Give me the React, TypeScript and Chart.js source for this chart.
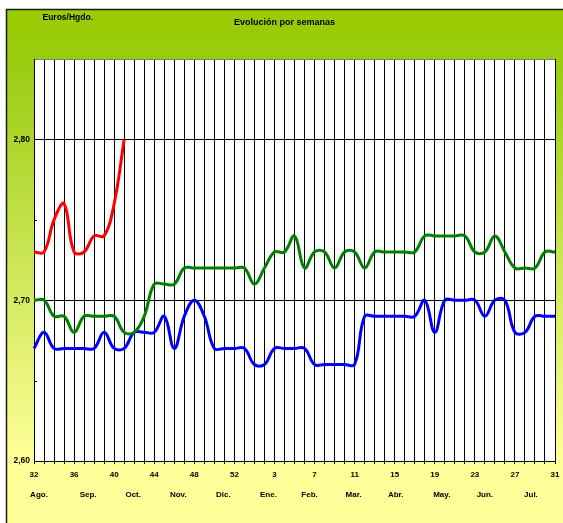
import { useEffect, useRef } from "react";
import { Chart, registerables } from "chart.js";

Chart.register(...registerables);

const weeks: number[] = [
  32, 33, 34, 35, 36, 37, 38, 39, 40, 41, 42, 43, 44, 45, 46, 47, 48, 49, 50, 51, 52, 53,
  1, 2, 3, 4, 5, 6, 7, 8, 9, 10, 11, 12, 13, 14, 15, 16, 17, 18, 19, 20, 21, 22, 23, 24,
  25, 26, 27, 28, 29, 30, 31,
];

const months: string[] = ["Ago.", "Sep.", "Oct.", "Nov.", "Dic.", "Ene.", "Feb.", "Mar.", "Abr.", "May.", "Jun.", "Jul."];
// month label centres, expressed as (fractional) week index on the category axis
const monthCenters: number[] = [0.5, 5.4, 9.9, 14.4, 18.9, 23.4, 27.5, 31.9, 36.1, 40.7, 45.0, 49.6];

const redSeries: (number | null)[] = [2.73, 2.73, 2.75, 2.76, 2.73, 2.73, 2.74, 2.74, 2.76, 2.8];

const greenSeries: number[] = [
  2.7, 2.7, 2.69, 2.69, 2.68, 2.69, 2.69, 2.69, 2.69, 2.68, 2.68, 2.69, 2.71, 2.71, 2.71, 2.72,
  2.72, 2.72, 2.72, 2.72, 2.72, 2.72, 2.71, 2.72, 2.73, 2.73, 2.74, 2.72, 2.73, 2.73, 2.72, 2.73,
  2.73, 2.72, 2.73, 2.73, 2.73, 2.73, 2.73, 2.74, 2.74, 2.74, 2.74, 2.74, 2.73, 2.73, 2.74, 2.73,
  2.72, 2.72, 2.72, 2.73, 2.73,
];

const blueSeries: number[] = [
  2.67, 2.68, 2.67, 2.67, 2.67, 2.67, 2.67, 2.68, 2.67, 2.67, 2.68, 2.68, 2.68, 2.69, 2.67, 2.69,
  2.7, 2.69, 2.67, 2.67, 2.67, 2.67, 2.66, 2.66, 2.67, 2.67, 2.67, 2.67, 2.66, 2.66, 2.66, 2.66,
  2.66, 2.69, 2.69, 2.69, 2.69, 2.69, 2.69, 2.7, 2.68, 2.7, 2.7, 2.7, 2.7, 2.69, 2.7, 2.7,
  2.68, 2.68, 2.69, 2.69, 2.69,
];

const yMin = 2.6;
const yMax = 2.85;
const yMajorTicks: number[] = [2.6, 2.7, 2.8];
const yMinorTicks: number[] = [2.65, 2.75];
const xLabelEvery = 4;

const titleText = "Evolución por semanas";
const unitText = "Euros/Hgdo.";

const FONT = "'Liberation Sans', Arial, sans-serif";

const backgroundPlugin = {
  id: "bgPlugin",
  beforeDraw(chart: any) {
    const { ctx, width, height, chartArea } = chart;
    ctx.save();
    ctx.fillStyle = "#ffffff";
    ctx.fillRect(0, 0, width, height);
    const g = ctx.createLinearGradient(0, 10, 0, height);
    g.addColorStop(0, "#99cc00");
    g.addColorStop(0.1, "#99cc11");
    g.addColorStop(0.88, "#ffff99");
    g.addColorStop(1, "#ffff99");
    ctx.fillStyle = g;
    ctx.fillRect(7, 10, width - 7, height - 10);
    ctx.strokeStyle = "#1a1a1a";
    ctx.lineWidth = 1.5;
    ctx.beginPath();
    ctx.moveTo(6.5, height);
    ctx.lineTo(6.5, 9.5);
    ctx.lineTo(width, 9.5);
    ctx.stroke();
    ctx.fillStyle = "#ffffff";
    ctx.fillRect(chartArea.left, chartArea.top, chartArea.right - chartArea.left, chartArea.bottom - chartArea.top);
    ctx.restore();
  },
  afterDraw(chart: any) {
    const { ctx } = chart;
    const xs = chart.scales.x;
    const ys = chart.scales.y;
    ctx.save();
    ctx.fillStyle = "#000000";
    ctx.textBaseline = "middle";
    ctx.font = `bold 9px ${FONT}`;
    ctx.textAlign = "center";
    ctx.fillText(titleText, 284.5, 22.5);
    ctx.font = `bold 8.5px ${FONT}`;
    ctx.textAlign = "left";
    ctx.fillText(unitText, 42.5, 18);
    ctx.font = `bold 8px ${FONT}`;
    ctx.textAlign = "center";
    months.forEach((m, i) => {
      ctx.fillText(m, xs.getPixelForValue(monthCenters[i]), 495);
    });
    ctx.strokeStyle = "#000000";
    ctx.lineWidth = 1;
    yMinorTicks.forEach((v) => {
      const y = Math.round(ys.getPixelForValue(v)) + 0.5;
      ctx.beginPath();
      ctx.moveTo(xs.left, y);
      ctx.lineTo(xs.left + 3, y);
      ctx.stroke();
    });
    ctx.restore();
  },
};

export default function App() {
  const ref = useRef<HTMLCanvasElement | null>(null);
  useEffect(() => {
    if (!ref.current) return;
    const lineDs = (label: string, data: (number | null)[], color: string) => ({
      label,
      data,
      borderColor: color,
      backgroundColor: color,
      borderWidth: 3,
      pointRadius: 0,
      tension: 0.4,
      fill: false,
      spanGaps: false,
    });
    const chart = new Chart(ref.current, {
      type: "line",
      data: {
        labels: weeks.map(String),
        datasets: [
          lineDs("green", greenSeries, "#008000"),
          lineDs("blue", blueSeries, "#0000ff"),
          lineDs("red", redSeries, "#ff0000"),
        ],
      },
      options: {
        animation: false,
        responsive: false,
        devicePixelRatio: 1,
        layout: { padding: { left: 0, top: 59, right: 8, bottom: 0 } },
        plugins: { legend: { display: false }, tooltip: { enabled: false }, title: { display: false } },
        scales: {
          x: {
            type: "category",
            offset: false,
            afterFit: (s: any) => {
              s.height = 62;
              s.paddingLeft = 0;
              s.paddingRight = 0;
            },
            grid: {
              color: "#000000",
              lineWidth: 1,
              drawTicks: true,
              tickLength: 3,
              tickColor: "#000000",
            },
            border: { display: true, color: "#000000", width: 1 },
            ticks: {
              autoSkip: false,
              maxRotation: 0,
              minRotation: 0,
              padding: 6,
              color: "#000000",
              font: { family: FONT, size: 8, weight: "bold" },
              callback: (_v: any, i: number) => (i % xLabelEvery === 0 ? String(weeks[i]) : ""),
            },
          },
          y: {
            min: yMin,
            max: yMax,
            afterFit: (s: any) => {
              s.width = 34;
              s.paddingTop = 0;
              s.paddingBottom = 0;
            },
            afterBuildTicks: (s: any) => {
              const vals = [...yMajorTicks, ...yMinorTicks, yMax].sort((a, b) => a - b);
              s.ticks = vals.map((v) => ({ value: v }));
            },
            grid: {
              drawTicks: false,
              lineWidth: 1,
              color: (c: any) => {
                const v = Math.round((c.tick?.value ?? 0) * 100);
                if (yMajorTicks.some((t) => Math.round(t * 100) === v)) return "#000000";
                if (v === Math.round(yMax * 100)) return "#808080";
                return "rgba(0,0,0,0)";
              },
            },
            border: { display: true, color: "#000000", width: 1 },
            ticks: {
              padding: 4,
              color: "#000000",
              font: { family: FONT, size: 8.5, weight: "bold" },
              callback: (v: any) => {
                const n = Number(v);
                return yMajorTicks.some((t) => Math.abs(t - n) < 1e-6) ? n.toFixed(2).replace(".", ",") : "";
              },
            },
          },
        },
      },
      plugins: [backgroundPlugin],
    } as any);
    return () => chart.destroy();
  }, []);
  return (
    <div style={{ position: "fixed", left: 0, top: 0, width: 563, height: 523 }}>
      <canvas ref={ref} width={563} height={523} style={{ width: 563, height: 523, display: "block" }} />
    </div>
  );
}
